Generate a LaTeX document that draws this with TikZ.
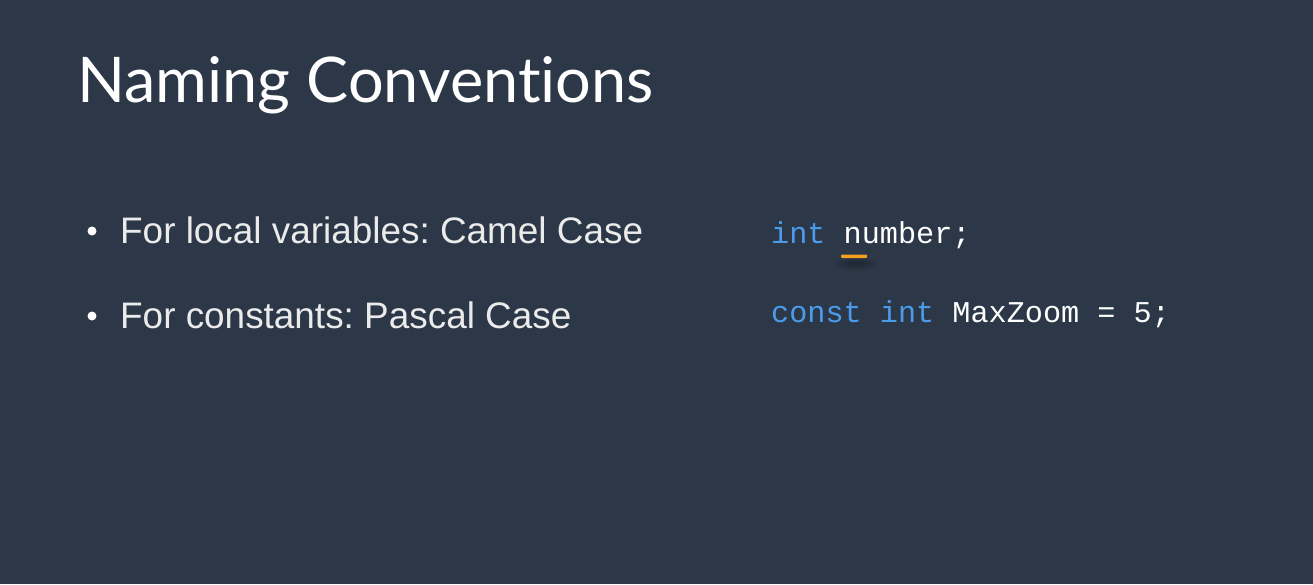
\documentclass[tikz,border=0pt]{standalone}
\usepackage{fontspec}
\setmainfont{Lato}[RawFeature=-liga]
\newfontfamily\bodyfont{Liberation Sans}
\newfontfamily\codefont{Liberation Mono}
\definecolor{bgc}{HTML}{2C3747}
\definecolor{kw}{HTML}{4C9BEA}
\definecolor{hlorange}{HTML}{F2A01E}
\frenchspacing
\begin{document}
\begin{tikzpicture}[x=1pt,y=-1pt,
  title/.style={anchor=base west,inner sep=0pt,text=white,font=\fontsize{63}{66}\selectfont},
  item/.style={anchor=base west,inner sep=0pt,text=white!92!black,font=\bodyfont\fontsize{36.9}{38}\selectfont},
  code/.style={anchor=base west,inner sep=0pt,text=white,font=\codefont\fontsize{30.2}{32}\selectfont},
  dot/.style={circle,fill=white,inner sep=0pt,minimum size=9pt}]
\fill[bgc] (0,0) rectangle (1313,584);
\useasboundingbox (0,0) rectangle (1313,584);
\node[title] (t) at (77,102) {Naming Conventions};
\node[dot] (b1) at (92,231) {};
\node[dot] (b2) at (92,316) {};
\node[item] (i1) at (120,243) {For local variables: Camel Case};
\node[item] (i2) at (120,328) {For constants: Pascal Case};
\node[code] (c1) at (771,243) {\textcolor{kw}{int} number;};
\node[code] (c2) at (771,322) {\textcolor{kw}{const int} MaxZoom = 5;};
\foreach \r in {1,...,6}{
  \fill[black,opacity=0.04] (856,264) ellipse ({4+3*\r pt} and {1+0.9*\r pt});
}
\fill[hlorange,rounded corners=1pt] (841,254.5) rectangle (867,258);
\end{tikzpicture}
\end{document}
